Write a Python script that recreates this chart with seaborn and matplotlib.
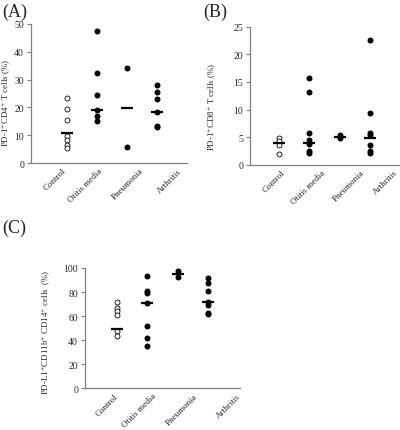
import numpy as np
import pandas as pd
import matplotlib
matplotlib.use("Agg")
import matplotlib.pyplot as plt
import matplotlib.transforms as mtransforms
import seaborn as sns

sns.set_theme(style="white")
plt.rcParams['font.family'] = ['Liberation Serif', 'DejaVu Serif']
plt.rcParams['mathtext.fontset'] = 'stix'

categories = ["Control", "Otitis media", "Pneumonia", "Arthritis"]

# Panel A: PD-1+CD4+ T cells (%)
a_control = [23.3, 19.3, 15.3, 9.6, 8.1, 6.6, 5.3]
a_otitis = [47.4, 32.5, 24.3, 19.2, 16.8, 15.0]
a_pneumonia = [34.0, 5.8]
a_arthritis = [28.2, 25.4, 23.0, 18.3, 13.4, 12.9]
a_median = [10.9, 19.0, 19.8, 18.3]

# Panel B: PD-1+CD8+ T cells (%)
b_control = [4.9, 4.3, 3.6, 2.0]
b_otitis = [15.7, 13.2, 5.7, 4.4, 3.8, 2.4, 2.2]
b_pneumonia = [5.4, 4.8]
b_arthritis = [22.6, 9.3, 5.8, 5.3, 3.6, 2.5, 2.1]
b_median = [3.9, 3.9, 5.1, 4.8]

# Panel C: PD-L1+CD11b+CD14+ cells (%)
c_control = [72.0, 67.0, 64.0, 61.0, 47.5, 43.5]
c_otitis = [93.5, 80.5, 79.0, 71.0, 51.5, 42.0, 34.8]
c_pneumonia = [97.8, 92.3]
c_arthritis = [91.5, 87.5, 80.5, 72.0, 69.5, 63.0, 61.5]
c_median = [49.0, 71.0, 95.0, 72.0]

W, H = 400, 431
fig = plt.figure(figsize=(4.0, 4.31), dpi=100)


def rect(l, r, b, t):
    return [l / W, 1 - b / H, (r - l) / W, (b - t) / H]


axA = fig.add_axes(rect(31, 187, 164, 25))
axB = fig.add_axes(rect(250, 400, 165.7, 27.7))
axC = fig.add_axes(rect(85, 240, 389.3, 269))

GRAY = '#808080'


def draw(ax, ctrl, oti, pneu, arth, med, ylim, yticks, xlim, ylabel, lab_xy, tick_dx):
    df_open = pd.DataFrame({'group': 'Control', 'value': ctrl})
    df_fill = pd.concat([
        pd.DataFrame({'group': 'Otitis media', 'value': oti}),
        pd.DataFrame({'group': 'Pneumonia', 'value': pneu}),
        pd.DataFrame({'group': 'Arthritis', 'value': arth}),
    ])
    df_med = pd.DataFrame({'group': categories, 'median': med})
    sns.stripplot(data=df_open, x='group', y='value', order=categories, jitter=False,
                  color='white', edgecolor='black', linewidth=0.6, size=3.6, ax=ax, zorder=3)
    sns.stripplot(data=df_fill, x='group', y='value', order=categories, jitter=False,
                  color='black', edgecolor='black', linewidth=0, size=4.3, ax=ax, zorder=3)
    sns.pointplot(data=df_med, x='group', y='median', order=categories, color='black',
                  markers='_', markersize=9, markeredgewidth=1.6, linestyle='none',
                  errorbar=None, ax=ax, zorder=4)
    ax.set_xlim(*xlim)
    ax.set_ylim(*ylim)
    ax.set_yticks(yticks)
    ax.set_xlabel('')
    ax.set_ylabel(ylabel, fontsize=6.4)
    ax.yaxis.set_label_coords(*lab_xy)
    for s in ['top', 'right']:
        ax.spines[s].set_visible(False)
    for s in ['left', 'bottom']:
        ax.spines[s].set_color(GRAY)
        ax.spines[s].set_linewidth(0.9)
    ax.tick_params(axis='y', which='both', left=True, length=3, width=0.8, color=GRAY,
                   labelsize=7, pad=2, direction='out')
    ax.tick_params(axis='x', length=0, labelsize=6.5, pad=2.5)
    ax.set_xticks(range(len(categories)))
    ax.set_xticklabels(categories, rotation=45, ha='right', rotation_mode='anchor')
    for lbl, dx in zip(ax.get_xticklabels(), tick_dx):
        off = mtransforms.ScaledTranslation(dx / 100.0, 0, fig.dpi_scale_trans)
        lbl.set_transform(lbl.get_transform() + off)


draw(axA, a_control, a_otitis, a_pneumonia, a_arthritis, a_median,
     (0, 50), [0, 10, 20, 30, 40, 50], (-1.19, 4.0),
     r'PD-1$^{+}$CD4$^{+}$ T cells (%)', (-0.115, 0.44), [-5, 1, 12, 21])
draw(axB, b_control, b_otitis, b_pneumonia, b_arthritis, b_median,
     (0, 25), [0, 5, 10, 15, 20, 25], (-0.97, 4.0),
     r'PD-1$^{+}$CD8$^{+}$ T cells (%)', (-0.207, 0.43), [2, 12, 21, 24])
draw(axC, c_control, c_otitis, c_pneumonia, c_arthritis, c_median,
     (0, 100), [0, 20, 40, 60, 80, 100], (-1.04, 4.04),
     r'PD-L1$^{+}$CD11b$^{+}$ CD14$^{+}$ cells  (%)', (-0.206, 0.47), [-3, 5, 15, 28])

fig.text(2 / W, 1 - 12 / H, '(A)', fontsize=13, va='center', ha='left')
fig.text(203 / W, 1 - 12 / H, '(B)', fontsize=13, va='center', ha='left')
fig.text(2 / W, 1 - 228 / H, '(C)', fontsize=13, va='center', ha='left')

fig.savefig('out.png', dpi=100)
